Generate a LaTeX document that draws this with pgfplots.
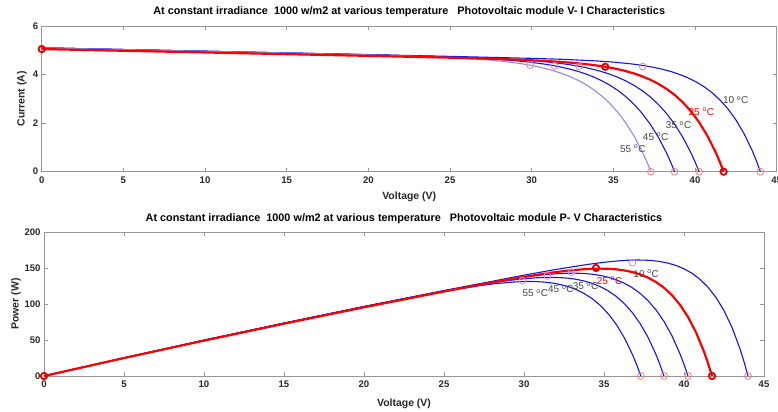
\documentclass[border=0pt]{standalone}
\usepackage{fontspec}
\setmainfont{Liberation Sans}
\usepackage{pgfplots}
\usepackage{pgfplotstable}
\pgfplotsset{compat=1.18}

\definecolor{axgray}{RGB}{150,150,150}
\definecolor{txtgray}{RGB}{40,40,40}
\definecolor{lblgray}{RGB}{70,70,70}
\definecolor{mblue}{RGB}{20,20,235}
\definecolor{lblue}{RGB}{140,140,240}
\definecolor{pinkm}{RGB}{245,130,130}
\definecolor{violetm}{RGB}{230,130,240}
\definecolor{rdark}{RGB}{230,0,0}

% I-V data (V in volts, I in amperes)
\pgfplotstableread{
V I
0 5.1
5 5.03
10 4.96
15 4.89
20 4.82
25 4.749
30 4.668
32 4.625
34 4.560
35 4.513
36 4.447
36.5 4.405
37 4.354
37.5 4.293
38 4.219
38.5 4.129
39 4.020
39.5 3.886
40 3.723
40.5 3.522
41 3.275
41.5 2.972
42 2.597
42.5 2.137
43 1.568
43.5 0.867
43.75 0.456
44 0
}\tten

\pgfplotstableread{
V I
0 5.05
5 4.98
10 4.91
15 4.84
20 4.77
25 4.695
27.75 4.645
29.75 4.597
31.75 4.524
32.75 4.470
33.75 4.395
34.25 4.348
34.75 4.292
35.25 4.225
35.75 4.145
36.25 4.048
36.75 3.931
37.25 3.790
37.75 3.620
38.25 3.413
38.75 3.163
39.25 2.858
39.75 2.487
40.25 2.036
40.75 1.486
41.25 0.817
41.5 0.429
41.75 0
}\ttwentyfive

\pgfplotstableread{
V I
0 5.1
5 5.03
10 4.96
15 4.89
20 4.818
26.25 4.707
28.25 4.651
30.25 4.565
31.25 4.501
32.25 4.414
32.75 4.359
33.25 4.295
33.75 4.219
34.25 4.129
34.75 4.022
35.25 3.894
35.75 3.742
36.25 3.561
36.75 3.344
37.25 3.085
37.75 2.774
38.25 2.401
38.75 1.955
39.25 1.418
39.75 0.774
40.0 0.405
40.25 0
}\tthirtyfive

\pgfplotstableread{
V I
0 5.1
5 5.03
10 4.96
15 4.89
20 4.816
24.75 4.728
26.75 4.672
28.75 4.585
29.75 4.521
30.75 4.434
31.25 4.379
31.75 4.314
32.25 4.238
32.75 4.148
33.25 4.040
33.75 3.912
34.25 3.759
34.75 3.577
35.25 3.359
35.75 3.099
36.25 2.786
36.75 2.412
37.25 1.963
37.75 1.424
38.25 0.777
38.5 0.406
38.75 0
}\tfortyfive

\pgfplotstableread{
V I
0 5.1
5 5.03
10 4.96
15 4.89
20 4.812
23.3 4.748
25.3 4.692
27.3 4.605
28.3 4.540
29.3 4.453
29.8 4.398
30.3 4.333
30.8 4.256
31.3 4.166
31.8 4.057
32.3 3.929
32.8 3.776
33.3 3.593
33.8 3.374
34.3 3.112
34.8 2.799
35.3 2.423
35.8 1.972
36.3 1.430
36.8 0.781
37.05 0.408
37.3 0
}\tfiftyfive

\tikzset{tlab/.style={anchor=west, font=\fontsize{10}{12}\selectfont, text=lblgray, inner sep=0pt}}

\pgfplotsset{
  pvbase/.style={
    scale only axis,
    anchor=south west,
    xmin=0, xmax=45,
    xtick={0,5,...,45},
    tick align=inside,
    tick pos=both,
    major tick length=4bp,
    axis line style={axgray, line width=0.7bp},
    tick style={axgray, line width=0.7bp},
    /pgf/number format/assume math mode=true,
    ticklabel style={font=\fontsize{9.6}{11}\selectfont\bfseries, text=txtgray},
    xticklabel style={yshift=-1.5bp},
    label style={font=\fontsize{10.5}{12}\selectfont\bfseries, text=txtgray},
    title style={font=\fontsize{10.9}{13}\selectfont\bfseries, text=black, anchor=center, yshift=0pt},
    clip=false,
  },
  bcurve/.style={mblue, line width=1.1bp, no marks},
  lcurve/.style={lblue, line width=1.1bp, no marks},
  rcurve/.style={red, line width=2.2bp, no marks},
  pmark/.style={only marks, mark=o, mark size=3.4bp, mark options={draw=pinkm, line width=0.8bp}},
  vmark/.style={only marks, mark=o, mark size=3.4bp, mark options={draw=violetm, line width=0.8bp}},
  rmark/.style={only marks, mark=o, mark size=3.2bp, mark options={draw=rdark, line width=1.8bp}},
}

\begin{document}
\begin{tikzpicture}
\useasboundingbox (0,0) rectangle (778bp,412bp);

% ---------- V-I ----------
\begin{axis}[pvbase,
  at={(41.7bp,240.3bp)},
  width=735bp, height=145.7bp,
  ymin=0, ymax=6, ytick={0,2,4,6},
  title={At constant irradiance\ \ 1000 w/m2 at various temperature\ \ \ Photovoltaic module V- I Characteristics},
  title style={at={(0.5,1.06)}},
  xlabel={Voltage (V)},
  xlabel style={at={(0.5,-0.172)}, anchor=center},
  ylabel={Current (A)},
  ylabel style={at={(-0.027,0.5)}, anchor=center},
]
\addplot[bcurve] table[x=V,y=I] {\tten};
\addplot[bcurve] table[x=V,y=I] {\tthirtyfive};
\addplot[bcurve] table[x=V,y=I] {\tfortyfive};
\addplot[lcurve] table[x=V,y=I] {\tfiftyfive};
\addplot[rcurve] table[x=V,y=I] {\ttwentyfive};
\addplot[pmark] coordinates {(29.9,4.39) (31.4,4.36) (32.9,4.34) (36.8,4.33)};
\addplot[pmark] coordinates {(37.3,0) (38.75,0) (40.25,0) (44,0)};
\addplot[rmark] coordinates {(0,5.05) (34.5,4.32) (41.75,0)};
\node[tlab] at (axis cs:41.7,2.95) {10 \textsuperscript{o}C};
\node[tlab, text=red] at (axis cs:39.6,2.46) {25 \textsuperscript{o}C};
\node[tlab] at (axis cs:38.2,1.92) {35 \textsuperscript{o}C};
\node[tlab] at (axis cs:36.8,1.44) {45 \textsuperscript{o}C};
\node[tlab] at (axis cs:35.4,0.96) {55 \textsuperscript{o}C};
\end{axis}

% ---------- P-V ----------
\begin{axis}[pvbase,
  at={(44bp,36bp)},
  width=720bp, height=144bp,
  ymin=0, ymax=200, ytick={0,50,...,200},
  title={At constant irradiance\ \ 1000 w/m2 at various temperature\ \ \ Photovoltaic module P- V Characteristics},
  title style={at={(0.5,1.049)}},
  xlabel={Voltage (V)},
  xlabel style={at={(0.5,-0.19)}, anchor=center},
  ylabel={Power (W)},
  ylabel style={at={(-0.039,0.5)}, anchor=center},
]
\addplot[bcurve] table[x=V,y expr=\thisrow{V}*\thisrow{I}] {\tten};
\addplot[bcurve] table[x=V,y expr=\thisrow{V}*\thisrow{I}] {\tthirtyfive};
\addplot[bcurve] table[x=V,y expr=\thisrow{V}*\thisrow{I}] {\tfortyfive};
\addplot[bcurve] table[x=V,y expr=\thisrow{V}*\thisrow{I}] {\tfiftyfive};
\addplot[rcurve] table[x=V,y expr=\thisrow{V}*\thisrow{I}] {\ttwentyfive};
\addplot[vmark] coordinates {(29.9,132.4) (31.46,138.9) (32.96,144) (36.77,157.4)};
\addplot[pmark] coordinates {(37.3,0) (38.75,0) (40.25,0) (44,0)};
\addplot[rmark] coordinates {(0,0) (34.5,150) (41.75,0)};
\node[tlab] at (axis cs:36.83,141.7) {10 \textsuperscript{o}C};
\node[tlab, text=red] at (axis cs:34.54,132.4) {25 \textsuperscript{o}C};
\node[tlab] at (axis cs:33.04,125) {35 \textsuperscript{o}C};
\node[tlab] at (axis cs:31.5,120.4) {45 \textsuperscript{o}C};
\node[tlab] at (axis cs:29.9,114.9) {55 \textsuperscript{o}C};
\end{axis}
\end{tikzpicture}
\end{document}
